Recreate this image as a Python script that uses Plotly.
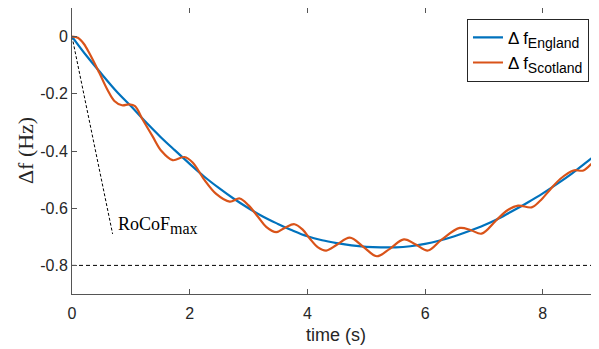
import plotly.graph_objects as go

# England frequency deviation
t_eng = [0.0, 0.25, 0.5, 0.75, 1.0, 1.25, 1.5, 1.75, 2.0, 2.25, 2.5, 2.75, 3.0, 3.25, 3.5,
         3.75, 4.0, 4.25, 4.5, 4.75, 5.0, 5.25, 5.5, 5.75, 6.0, 6.25, 6.5, 6.75, 7.0,
         7.25, 7.5, 7.75, 8.0, 8.25, 8.5, 8.75, 9.0]
df_eng = [0.0, -0.068, -0.130, -0.190, -0.243, -0.298, -0.350, -0.398, -0.445, -0.490,
          -0.530, -0.567, -0.600, -0.630, -0.655, -0.678, -0.698, -0.712, -0.722, -0.730,
          -0.735, -0.737, -0.737, -0.733, -0.725, -0.713, -0.698, -0.680, -0.660, -0.636,
          -0.608, -0.579, -0.548, -0.514, -0.478, -0.438, -0.397]

# Scotland frequency deviation
t_sco = [0.0, 0.10, 0.20, 0.30, 0.46, 0.60, 0.72, 0.85, 0.97, 1.07, 1.20, 1.37, 1.52,
         1.71, 1.91, 2.05, 2.25, 2.45, 2.68, 2.85, 3.00, 3.16, 3.30, 3.47, 3.62, 3.78,
         3.92, 4.04, 4.18, 4.32, 4.50, 4.72, 4.95, 5.18, 5.40, 5.64, 5.85, 6.05, 6.28,
         6.59, 6.78, 6.96, 7.21, 7.40, 7.58, 7.81, 7.95, 8.12, 8.30, 8.52, 8.69, 8.85, 9.0]
df_sco = [0.0, -0.004, -0.025, -0.060, -0.125, -0.185, -0.225, -0.240, -0.237, -0.243,
          -0.290, -0.349, -0.400, -0.432, -0.421, -0.440, -0.501, -0.550, -0.577, -0.566,
          -0.590, -0.630, -0.665, -0.684, -0.668, -0.656, -0.675, -0.706, -0.737, -0.748,
          -0.728, -0.703, -0.735, -0.768, -0.742, -0.709, -0.728, -0.748, -0.710, -0.669,
          -0.677, -0.689, -0.642, -0.607, -0.591, -0.597, -0.575, -0.536, -0.497, -0.468,
          -0.468, -0.440, -0.408]

# RoCoF line and limit
rocof_t = [0.0, 0.69]
rocof_df = [0.0, -0.69]
limit_t = [0.0, 9.0]
limit_df = [-0.8, -0.8]

x_ticks = [0, 2, 4, 6, 8]
y_ticks = [0, -0.2, -0.4, -0.6, -0.8]
y_labels = ["0", "-0.2", "-0.4", "-0.6", "-0.8"]

fig = go.Figure()
fig.add_trace(go.Scatter(x=rocof_t, y=rocof_df, mode="lines",
                         line=dict(color="black", width=1, dash="3px,2px"),
                         showlegend=False, hoverinfo="skip"))
fig.add_trace(go.Scatter(x=limit_t, y=limit_df, mode="lines",
                         line=dict(color="black", width=1, dash="4px,3px"),
                         showlegend=False, hoverinfo="skip"))
fig.add_trace(go.Scatter(x=t_eng, y=df_eng, mode="lines",
                         name="Δ f<sub><span style='font-size:14px'>England</span></sub>",
                         line=dict(color="#0072BD", width=2.2, shape="spline")))
fig.add_trace(go.Scatter(x=t_sco, y=df_sco, mode="lines",
                         name="Δ f<sub><span style='font-size:14px'>Scotland</span></sub>",
                         line=dict(color="#D95319", width=2.2, shape="spline")))

fig.add_annotation(x=0.74, y=-0.66, text="RoCoF<sub><span style='font-size:16px'>max</span></sub>",
                   showarrow=False, xanchor="left", yanchor="middle",
                   font=dict(family="Liberation Serif", size=18, color="black"))

# axis titles
fig.add_annotation(xref="paper", yref="paper", x=0.5, y=-0.1, text="time (s)",
                   showarrow=False, xanchor="center", yanchor="top",
                   font=dict(family="Liberation Sans", size=18, color="#262626"))
fig.add_annotation(xref="paper", yref="paper", x=-0.089, y=0.5, text="Δf (Hz)", textangle=-90,
                   showarrow=False, xanchor="center", yanchor="middle",
                   font=dict(family="Liberation Serif", size=22, color="#262626"))

axis_common = dict(showline=True, linecolor="#555555", linewidth=1, mirror="ticks",
                   ticks="inside", ticklen=5, tickcolor="#555555", showgrid=False,
                   zeroline=False, automargin=False,
                   tickfont=dict(family="Liberation Sans", size=16, color="#262626"))

fig.update_xaxes(range=[0, 8.955], tickvals=x_ticks, ticklabelstandoff=5, **axis_common)
fig.update_yaxes(range=[-0.9, 0.1], tickvals=y_ticks, ticktext=y_labels, **axis_common)

# page body has an 8px margin; size the figure so the plot lands where the reference has it
fig.update_layout(width=591, height=341, margin=dict(l=64, r=0, t=0, b=55),
                  plot_bgcolor="white", paper_bgcolor="white",
                  legend=dict(x=0.981, y=0.962, xanchor="right", yanchor="top",
                              bgcolor="white", bordercolor="#262626", borderwidth=1,
                              font=dict(family="Liberation Sans", size=17, color="black"),
                              tracegroupgap=0, itemwidth=30))

fig.write_html("out.html")
